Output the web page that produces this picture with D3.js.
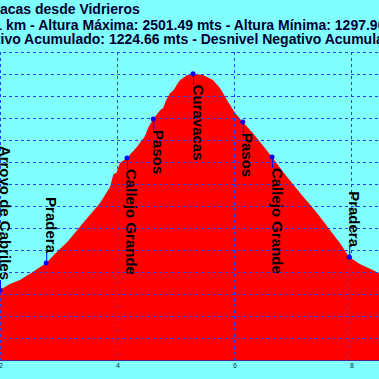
<!DOCTYPE html>
<html>
<head>
<meta charset="utf-8">
<script src="https://cdn.jsdelivr.net/npm/d3@7/dist/d3.min.js"></script>
<style>
body { margin: 0; background: #80ffff; overflow: hidden; }
</style>
</head>
<body>
<script>
// perfil: distancia (km) y altura (m)
var kms = [0, 0.5, 1.0, 1.5, 2.0, 2.17, 2.34, 2.56, 2.79, 2.97, 3.15, 3.42, 3.71, 3.88,
           3.94, 3.99, 4.05, 4.17, 4.34, 4.39, 4.48, 4.53, 4.62, 4.74, 4.79, 4.84, 4.91,
           4.97, 5.03, 5.08, 5.20, 5.30, 5.47, 5.64, 5.76, 5.88, 6.02, 6.15, 6.32, 6.50,
           6.65, 6.84, 7.13, 7.42, 7.64, 7.81, 7.97, 8.15, 8.48, 8.6, 9.0, 9.5, 10.0, 10.61];
var alturas = [1297.9, 1330, 1380, 1450, 1518, 1545, 1564, 1600, 1641, 1691, 1736, 1823, 1914, 1986,
               2045, 2050, 2095, 2118, 2168, 2186, 2218, 2255, 2295, 2336, 2345, 2382, 2414,
               2427, 2455, 2473, 2495, 2501.49, 2495, 2473, 2436, 2382, 2323, 2282, 2232, 2173,
               2123, 2055, 1959, 1868, 1791, 1732, 1668, 1636, 1595, 1580, 1520, 1440, 1370, 1310];

// puntos de paso
var puntos = ["Arroyo de Cabriles", "Pradera", "Callejo Grande", "Pasos", "Curavacas",
              "Pasos", "Callejo Grande", "Pradera"];
var puntosKm = [2.0, 2.79, 4.17, 4.62, 5.30, 6.15, 6.65, 7.97];
var puntosAltura = [1518, 1641, 2118, 2295, 2501.49, 2282, 2123, 1668];

var xTicks = [0, 2, 4, 6, 8, 10];
var yTicks = [1200, 1300, 1400, 1500, 1600, 1700, 1800, 1900, 2000, 2100, 2200, 2300, 2400, 2500, 2600];

var titulos = [
  "Curavacas desde Vidrieros",
  "Distancia: 10.61 km - Altura Máxima: 2501.49 mts - Altura Mínima: 1297.90 mts",
  "Desnivel Positivo Acumulado: 1224.66 mts - Desnivel Negativo Acumulado: 1224.66 mts"
];

var w = 379, h = 379;
var plotTop = 52, plotBottom = 360;

var x = d3.scaleLinear().domain([2, 8]).range([0, 351]);
var y = d3.scaleLinear().domain([1200, 2600]).range([plotBottom, plotTop]);

var svg = d3.select("body").append("svg")
    .attr("width", w)
    .attr("height", h)
    .style("display", "block")
    .style("font-family", "'Liberation Sans', Arial, sans-serif");

svg.append("rect").attr("width", w).attr("height", h).attr("fill", "#80ffff");

// titulo (recortado a los lados, como el original)
var cortes = [["Curav", 0, 14], ["Distancia: 10.61 ", 6, 30], ["Desnivel Posit", 0.5, 44]];
titulos.forEach(function(t, i) {
  var txt = svg.append("text")
      .attr("y", cortes[i][2])
      .attr("font-size", "14px")
      .attr("font-weight", "bold")
      .attr("fill", "#000033")
      .text(t);
  var off = txt.node().getSubStringLength(0, cortes[i][0].length);
  txt.attr("x", cortes[i][1] - off);
});

var data = kms.map(function(k, i) { return {km: k, alt: alturas[i]}; });

svg.append("clipPath").attr("id", "plot")
  .append("rect")
  .attr("x", x(0)).attr("y", plotTop)
  .attr("width", x(10.61) - x(0)).attr("height", plotBottom - plotTop);

var area = d3.area()
    .x(function(d) { return x(d.km); })
    .y0(plotBottom)
    .y1(function(d) { return y(d.alt); });

svg.append("path")
    .datum(data)
    .attr("clip-path", "url(#plot)")
    .attr("fill", "#ff0000")
    .attr("d", area);

// rejilla
svg.selectAll("line.gy")
   .data(yTicks)
   .enter()
   .append("line")
   .attr("class", "gy")
   .attr("x1", x(0)).attr("x2", x(10.61))
   .attr("y1", function(d) { return y(d) + 0.5; })
   .attr("y2", function(d) { return y(d) + 0.5; })
   .attr("stroke", "#2040ff")
   .attr("stroke-width", 1)
   .attr("stroke-dasharray", "3,3");

svg.selectAll("line.gx")
   .data(xTicks)
   .enter()
   .append("line")
   .attr("class", "gx")
   .attr("x1", function(d) { return x(d) + 0.5; })
   .attr("x2", function(d) { return x(d) + 0.5; })
   .attr("y1", plotTop).attr("y2", plotBottom)
   .attr("stroke", "#2040ff")
   .attr("stroke-width", 1)
   .attr("stroke-dasharray", "3,3");

svg.append("line")
   .attr("x1", x(0)).attr("x2", x(10.61))
   .attr("y1", plotBottom + 0.5).attr("y2", plotBottom + 0.5)
   .attr("stroke", "#5020a0")
   .attr("stroke-width", 1);

svg.selectAll("text.tick")
   .data(xTicks)
   .enter()
   .append("text")
   .attr("class", "tick")
   .attr("x", function(d) { return x(d) + 1; })
   .attr("y", plotBottom + 8)
   .attr("text-anchor", "middle")
   .attr("font-size", "7px")
   .attr("fill", "#003838")
   .text(function(d) { return d; });

// puntos de paso con etiquetas verticales
var wp = puntos.map(function(n, i) {
  return {name: n, km: puntosKm[i], alt: puntosAltura[i], arriba: puntosAltura[i] < 1700};
});

svg.selectAll("line.wp")
   .data(wp)
   .enter()
   .append("line")
   .attr("class", "wp")
   .attr("x1", function(d) { return x(d.km) + 0.5; })
   .attr("x2", function(d) { return x(d.km) + 0.5; })
   .attr("y1", function(d) { return y(d.alt); })
   .attr("y2", function(d) { return y(d.alt) + (d.arriba ? -10 : 11); })
   .attr("stroke", "#0000ff")
   .attr("stroke-width", 1);

svg.selectAll("circle")
   .data(wp)
   .enter()
   .append("circle")
   .attr("cx", function(d) { return x(d.km); })
   .attr("cy", function(d) { return y(d.alt); })
   .attr("r", 2.5)
   .attr("fill", "#0000ff");

svg.selectAll("text.wp")
   .data(wp)
   .enter()
   .append("text")
   .attr("class", "wp")
   .attr("transform", function(d) {
     var ty = y(d.alt) + (d.arriba ? -10 : 11);
     return "translate(" + (x(d.km) - 0.5) + "," + ty + ") rotate(90)";
   })
   .attr("text-anchor", function(d) { return d.arriba ? "end" : "start"; })
   .attr("font-size", "15px")
   .attr("font-weight", "bold")
   .attr("fill", "#000000")
   .text(function(d) { return d.name; });
</script>
</body>
</html>
